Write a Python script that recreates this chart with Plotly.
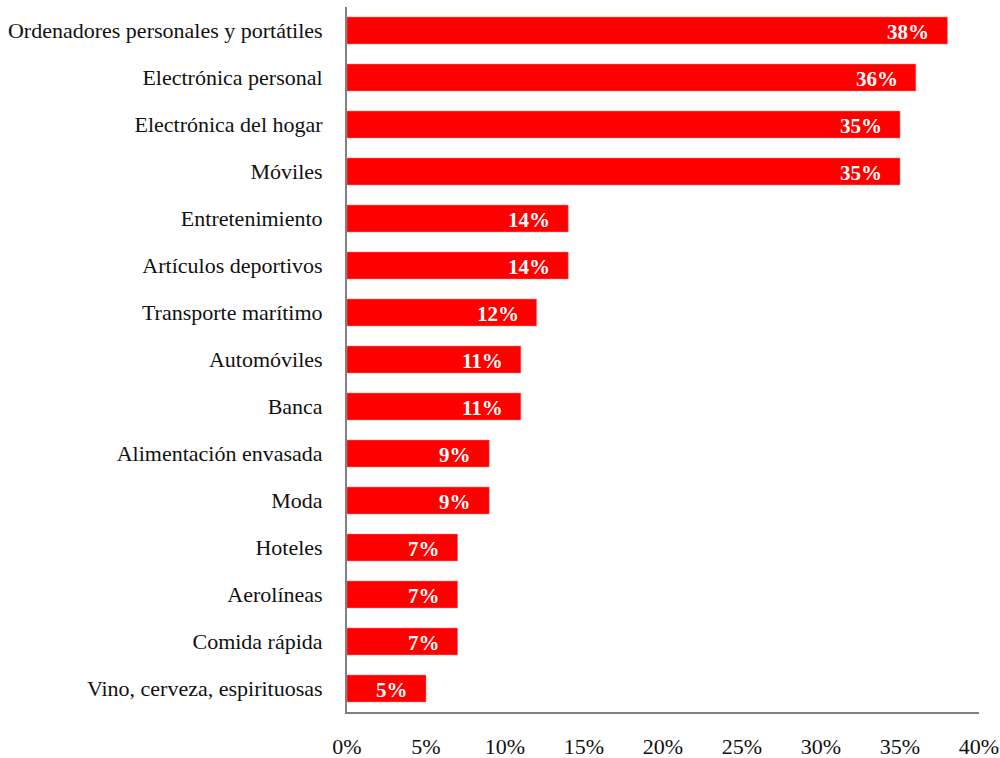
import plotly.graph_objects as go

categories = [
    "Ordenadores personales y portátiles",
    "Electrónica personal",
    "Electrónica del hogar",
    "Móviles",
    "Entretenimiento",
    "Artículos deportivos",
    "Transporte marítimo",
    "Automóviles",
    "Banca",
    "Alimentación envasada",
    "Moda",
    "Hoteles",
    "Aerolíneas",
    "Comida rápida",
    "Vino, cerveza, espirituosas",
]
values = [0.38, 0.36, 0.35, 0.35, 0.14, 0.14, 0.12, 0.11, 0.11, 0.09, 0.09, 0.07, 0.07, 0.07, 0.05]
tick_vals = [0, 0.05, 0.10, 0.15, 0.20, 0.25, 0.30, 0.35, 0.40]
tick_text = ["0%", "5%", "10%", "15%", "20%", "25%", "30%", "35%", "40%"]

FONT = "Liberation Serif"

fig = go.Figure(
    go.Bar(
        x=values,
        y=categories,
        orientation="h",
        marker=dict(color="#FF0000", line=dict(color="#FF6B6B", width=0.5)),
        hoverinfo="x+y",
    )
)

# value labels placed inside the bar end
for cat, v in zip(categories, values):
    fig.add_annotation(
        x=v, y=cat, xref="x", yref="y",
        text=f"<b>{round(v * 100)}%</b>",
        showarrow=False, xanchor="right", xshift=-16, yshift=-1,
        font=dict(family=FONT, size=21, color="white"),
    )

fig.update_layout(
    width=1000, height=758,
    margin=dict(l=347, r=21, t=7, b=46),
    plot_bgcolor="white", paper_bgcolor="white",
    bargap=0.43,
    showlegend=False,
    font=dict(family=FONT, size=22, color="#111111"),
)
fig.update_xaxes(
    range=[0, 0.40], tickvals=tick_vals, ticktext=tick_text,
    showgrid=False, zeroline=False, automargin=False,
    showline=True, linecolor="#808080", linewidth=2,
    ticks="", ticklabelstandoff=14,
    tickfont=dict(family=FONT, size=22, color="#111111"),
)
fig.update_yaxes(
    categoryorder="array", categoryarray=categories[::-1],
    showgrid=False, zeroline=False, automargin=False,
    showline=True, linecolor="#808080", linewidth=2,
    ticks="", ticklabelstandoff=18,
    tickfont=dict(family=FONT, size=22, color="#111111"),
)

fig.write_html("out.html")
